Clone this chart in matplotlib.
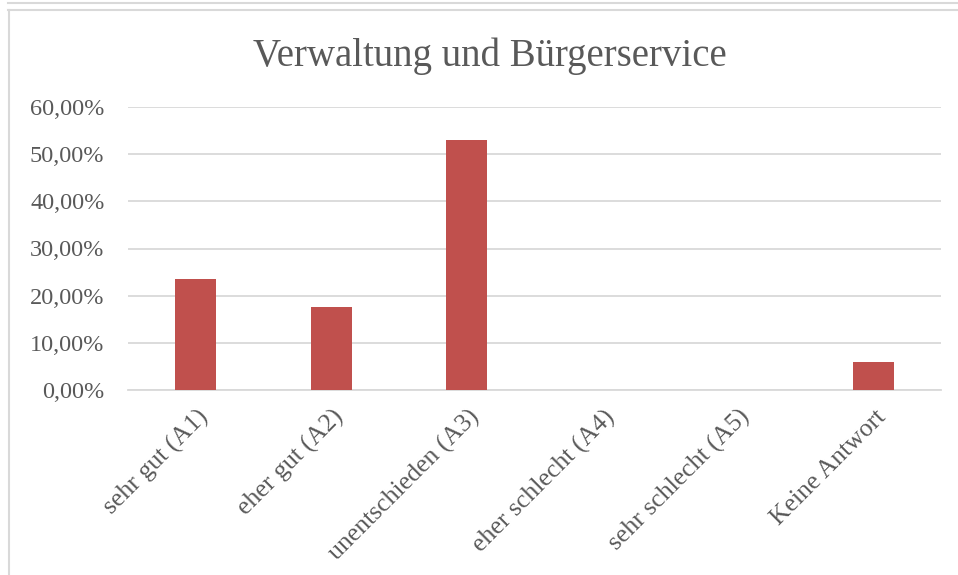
import matplotlib
matplotlib.use("Agg")
import matplotlib.pyplot as plt
from matplotlib.lines import Line2D
from matplotlib.ticker import FuncFormatter
import matplotlib.transforms as mtransforms

# data
categories = ["sehr gut (A1)", "eher gut (A2)", "unentschieden (A3)",
              "eher schlecht (A4)", "sehr schlecht (A5)", "Keine Antwort"]
shares = [0.2353, 0.1765, 0.5294, 0.0, 0.0, 0.0588]
y_ticks = [0.0, 0.1, 0.2, 0.3, 0.4, 0.5, 0.6]

text_col = "#595959"
plt.rcParams['font.family'] = ['Liberation Serif', 'DejaVu Serif']

fig = plt.figure(figsize=(9.58, 5.75), dpi=100)
ax = fig.add_axes([128 / 958, 1 - 390 / 575, (941 - 128) / 958, (390 - 107) / 575])

x = list(range(len(categories)))
ax.bar(x, shares, width=0.30, color="#C0504D", zorder=3)

ax.set_xlim(-0.5, len(categories) - 0.5)
ax.set_ylim(0, 0.6)
ax.set_yticks(y_ticks)
ax.yaxis.set_major_formatter(FuncFormatter(lambda v, p: f"{v * 100:.2f}%".replace(".", ",")))
ax.grid(axis="y", color="#D9D9D9", linewidth=1.3, zorder=0)
for s in ["top", "right", "left"]:
    ax.spines[s].set_visible(False)
ax.spines["bottom"].set_color("#D9D9D9")
ax.spines["bottom"].set_linewidth(1.3)
ax.tick_params(axis="y", length=0, pad=17, labelsize=17.5, labelcolor=text_col)
ax.tick_params(axis="x", length=0)

ax.set_xticks(x)
ax.set_xticklabels(categories, rotation=45, ha="right", va="center",
                   rotation_mode="anchor", fontsize=18.5, color=text_col)
offset = mtransforms.ScaledTranslation(9 / 100, -19 / 100, fig.dpi_scale_trans)
for lbl in ax.get_xticklabels():
    lbl.set_transform(lbl.get_transform() + offset)

fig.text(490 / 958, 1 - 56 / 575, "Verwaltung und Bürgerservice", ha="center", va="center",
         fontsize=28, color=text_col)

# chart frame lines (excel style)
frame = "#D9D9D9"
fig.add_artist(Line2D([8 / 958, 1], [1 - 2.5 / 575, 1 - 2.5 / 575], color=frame, lw=1.5))
fig.add_artist(Line2D([8 / 958, 1], [1 - 9.5 / 575, 1 - 9.5 / 575], color=frame, lw=1.5))
fig.add_artist(Line2D([8.5 / 958, 8.5 / 958], [0, 1 - 9.5 / 575], color=frame, lw=1.5))

fig.savefig("out.png", dpi=100)
